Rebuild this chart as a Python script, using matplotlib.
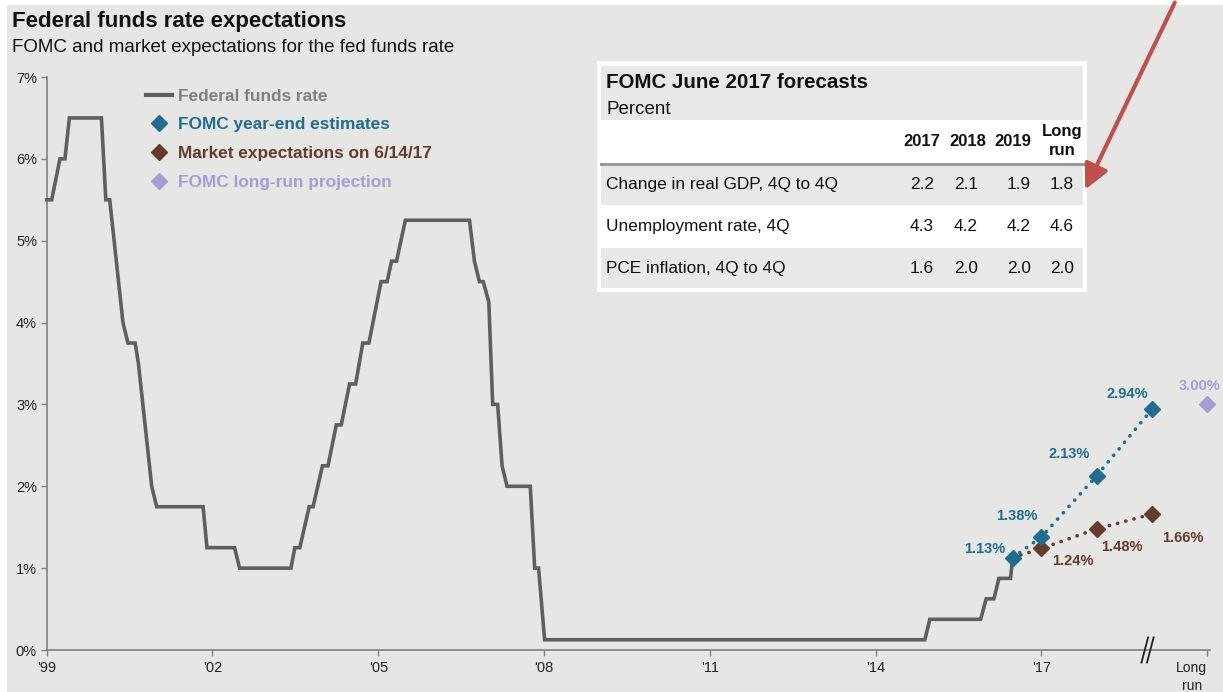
import matplotlib
matplotlib.use("Agg")
import matplotlib.pyplot as plt
from matplotlib.lines import Line2D
from matplotlib.patches import Rectangle, FancyArrowPatch
import matplotlib.transforms as mtransforms

plt.rcParams['font.family'] = ['Liberation Sans', 'DejaVu Sans']

# ---------------- data ----------------
# x positions on the chart's year axis (tick '99 = 1999.0 ... '17 = 2017.0, long run = 2020)
ffr_x = [1999.0, 1999.09, 1999.24, 1999.33, 1999.41, 1999.99, 2000.07, 2000.14, 2000.38, 2000.47,
         2000.60, 2000.66, 2000.90, 2000.99, 2001.83, 2001.90, 2002.40, 2002.49, 2003.42, 2003.49,
         2003.58, 2003.75, 2003.82, 2003.99, 2004.09, 2004.24, 2004.33, 2004.48, 2004.59, 2004.72,
         2004.83, 2005.05, 2005.16, 2005.24, 2005.33, 2005.49, 2006.65, 2006.74, 2006.83, 2006.90,
         2007.00, 2007.07, 2007.16, 2007.24, 2007.33, 2007.75, 2007.83, 2007.90, 2008.01, 2014.89,
         2014.98, 2015.90, 2016.00, 2016.14, 2016.23, 2016.44, 2016.48]
ffr_y = [5.5, 5.5, 6.0, 6.0, 6.5, 6.5, 5.5, 5.5, 4.0, 3.75,
         3.75, 3.5, 2.0, 1.75, 1.75, 1.25, 1.25, 1.0, 1.0, 1.25,
         1.25, 1.75, 1.75, 2.25, 2.25, 2.75, 2.75, 3.25, 3.25, 3.75,
         3.75, 4.5, 4.5, 4.75, 4.75, 5.25, 5.25, 4.75, 4.5, 4.5,
         4.25, 3.0, 3.0, 2.25, 2.0, 2.0, 1.0, 1.0, 0.125, 0.125,
         0.375, 0.375, 0.625, 0.625, 0.875, 0.875, 1.125]

fomc_x = [2016.48, 2017.0, 2018.0, 2019.0]
fomc_y = [1.13, 1.38, 2.13, 2.94]
market_x = [2016.48, 2017.0, 2018.0, 2019.0]
market_y = [1.13, 1.24, 1.48, 1.66]
longrun_x = [2020.0]
longrun_y = [3.00]

xtick_pos = [1999, 2002, 2005, 2008, 2011, 2014, 2017, 2020]
xtick_labels = ["'99", "'02", "'05", "'08", "'11", "'14", "'17", "Long\nrun"]
ytick_pos = [0, 1, 2, 3, 4, 5, 6, 7]
ytick_labels = ["0%", "1%", "2%", "3%", "4%", "5%", "6%", "7%"]
axis_break_x = 2018.92

table_title = "FOMC June 2017 forecasts"
table_subtitle = "Percent"
table_cols = ["2017", "2018", "2019", "Long\nrun"]
table_rows = ["Change in real GDP, 4Q to 4Q", "Unemployment rate, 4Q", "PCE inflation, 4Q to 4Q"]
table_values = [["2.2", "2.1", "1.9", "1.8"],
                ["4.3", "4.2", "4.2", "4.6"],
                ["1.6", "2.0", "2.0", "2.0"]]

legend_labels = ["Federal funds rate", "FOMC year-end estimates",
                 "Market expectations on 6/14/17", "FOMC long-run projection"]

# ---------------- style ----------------
W, H = 1223, 692
BG = "#e6e6e5"
C_FFR = "#5f5f5f"
C_FOMC = "#1f6e92"
C_MKT = "#653b2b"
C_LR = "#a99ad8"
C_LEG_FFR = "#808080"

fig = plt.figure(figsize=(W / 100, H / 100), dpi=100)
fig.patch.set_facecolor("white")

def fx(px):
    return px / W

def fy(py):
    return 1 - py / H

# grey panel
fig.patches.append(Rectangle((fx(7), 0), 1 - fx(7), fy(5), transform=fig.transFigure,
                             facecolor=BG, edgecolor="none", zorder=-10))

ax_left, ax_right = 46.7, 1210.0
ax_top, ax_bottom = 77.0, 650.0
ax = fig.add_axes([fx(ax_left), fy(ax_bottom), fx(ax_right - ax_left), (ax_bottom - ax_top) / H])
ax.set_facecolor("none")
ax.set_xlim(1999, 2020.05)
ax.set_ylim(0, 7)

for s in ["top", "right"]:
    ax.spines[s].set_visible(False)
for s in ["left", "bottom"]:
    ax.spines[s].set_color("#808080")
    ax.spines[s].set_linewidth(1.2)

ax.set_xticks(xtick_pos)
ax.set_xticklabels(xtick_labels, fontsize=10.5, color="#222222", linespacing=1.35)
ax.set_yticks(ytick_pos)
ax.set_yticklabels(ytick_labels, fontsize=10.5, color="#222222")
ax.tick_params(axis="both", length=4, width=1, color="#808080")
ax.tick_params(axis="x", pad=4)
ax.tick_params(axis="y", pad=3)
for lbl in ax.get_xticklabels():
    if "Long" in lbl.get_text():
        lbl.set_fontsize(10)
        lbl.set_horizontalalignment("right")
        lbl.set_multialignment("center")

# fed funds line
ax.plot(ffr_x, ffr_y, color=C_FFR, lw=2.6, solid_joinstyle="miter", zorder=3, clip_on=False)

# expectations (dotted)
dot_ls = (0, (0.05, 2.3))
ax.plot(market_x, market_y, color=C_MKT, lw=2.6, ls=dot_ls, dash_capstyle="round", zorder=4)
ax.plot(market_x[1:], market_y[1:], ls="none", marker="D", ms=8.5, color=C_MKT, zorder=5)
ax.plot(fomc_x, fomc_y, color=C_FOMC, lw=2.6, ls=dot_ls, dash_capstyle="round", zorder=4)
ax.plot(fomc_x, fomc_y, ls="none", marker="D", ms=8.5, color=C_FOMC, zorder=6)
ax.plot(longrun_x, longrun_y, ls="none", marker="D", ms=8.5, color=C_LR, zorder=6, clip_on=False)

lab_kw = dict(fontsize=10.5, fontweight="bold")
fomc_off = [(-0.5, 0.1, "center"), (-0.45, 0.26, "center"), (-0.5, 0.27, "center"), (-0.45, 0.19, "center")]
for (x, y), (dx, dy, ha) in zip(zip(fomc_x, fomc_y), fomc_off):
    ax.text(x + dx, y + dy, f"{y:.2f}%", color=C_FOMC, ha=ha, va="center", **lab_kw)
mkt_off = [(0.57, -0.15), (0.45, -0.22), (0.56, -0.29)]
for (x, y), (dx, dy) in zip(zip(market_x[1:], market_y[1:]), mkt_off):
    ax.text(x + dx, y + dy, f"{y:.2f}%", color=C_MKT, ha="center", va="center", **lab_kw)
ax.text(longrun_x[0] - 0.13, longrun_y[0] + 0.22, f"{longrun_y[0]:.2f}%", color=C_LR,
        ha="center", va="center", clip_on=False, **lab_kw)

# axis break marks
trans = mtransforms.blended_transform_factory(ax.transData, ax.transAxes)
for dxp in (-0.05, 0.05):
    ax.plot([axis_break_x + dxp - 0.06, axis_break_x + dxp + 0.06], [-0.022, 0.022],
            transform=trans, color="#222222", lw=1.3, clip_on=False, zorder=7)

# legend
handles = [Line2D([], [], color=C_FFR, lw=3),
           Line2D([], [], ls="none", marker="D", ms=8.5, color=C_FOMC),
           Line2D([], [], ls="none", marker="D", ms=8.5, color=C_MKT),
           Line2D([], [], ls="none", marker="D", ms=8.5, color=C_LR)]
leg = fig.legend(handles, legend_labels, loc="upper left",
                 bbox_to_anchor=(fx(130), fy(73)), frameon=False, handlelength=1.55,
                 handletextpad=0.33, labelspacing=0.8,
                 prop=dict(size=12.4, weight="bold"),
                 labelcolor=[C_LEG_FFR, C_FOMC, C_MKT, C_LR])

# titles
fig.text(fx(12), fy(22), "Federal funds rate expectations", fontsize=16, fontweight="bold",
         color="#111111", va="center", ha="left")
fig.text(fx(12), fy(48), "FOMC and market expectations for the fed funds rate", fontsize=13.5,
         color="#111111", va="center", ha="left")

# ---------------- table ----------------
tl, tr, tt, tb = 597, 1087, 61, 292
fig.patches.append(Rectangle((fx(tl), fy(tb)), fx(tr - tl), (tb - tt) / H, transform=fig.transFigure,
                             facecolor="white", edgecolor="none", zorder=1))
inner_l, inner_r = 601, 1083
row_grey = "#e8e8e7"
bands = [(66, 120, row_grey), (165, 205, row_grey), (248, 288, row_grey)]
for y0, y1, c in bands:
    fig.patches.append(Rectangle((fx(inner_l), fy(y1)), fx(inner_r - inner_l), (y1 - y0) / H,
                                 transform=fig.transFigure, facecolor=c, edgecolor="none", zorder=2))
fig.add_artist(Line2D([fx(inner_l), fx(inner_r)], [fy(163.5), fy(163.5)], color="#9a9a9a", lw=2.2,
                      transform=fig.transFigure, zorder=3))
fig.text(fx(606), fy(82), table_title, fontsize=14.8, fontweight="bold", color="#111111",
         va="center", zorder=4)
fig.text(fx(606), fy(110), table_subtitle, fontsize=13.5, color="#111111", va="center", zorder=4)

col_right = [940, 986, 1031, 1081]
for cx, col in zip(col_right, table_cols):
    if "\n" in col:
        fig.text(fx(1062), fy(141), col, fontsize=12, fontweight="bold", color="#111111",
                 ha="center", va="center", linespacing=1.3, zorder=4)
    else:
        fig.text(fx(cx), fy(141), col, fontsize=12, fontweight="bold", color="#111111",
                 ha="right", va="center", zorder=4)
row_y = [185, 227, 269]
val_right = [934, 978, 1031, 1074]
for ry, rlabel, vals in zip(row_y, table_rows, table_values):
    fig.text(fx(606), fy(ry), rlabel, fontsize=12.4, color="#111111", va="center", zorder=4)
    for vx, v in zip(val_right, vals):
        fig.text(fx(vx), fy(ry), v, fontsize=12.4, color="#111111", ha="right", va="center", zorder=4)

# red arrow
fig.add_artist(FancyArrowPatch(
    (fx(1176), fy(0)), (fx(1084), fy(192)), transform=fig.transFigure,
    arrowstyle="-|>,head_length=10,head_width=5", mutation_scale=1.5, color="#c0504d", lw=3.0,
    zorder=10))

fig.savefig("out.png", dpi=100, facecolor=fig.get_facecolor())
